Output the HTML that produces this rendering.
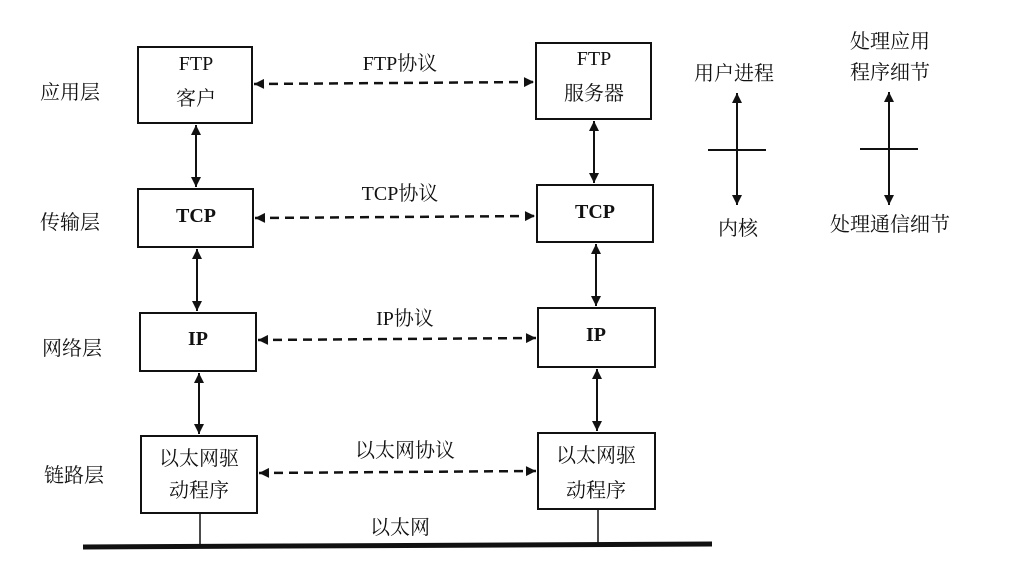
<!DOCTYPE html>
<html><head><meta charset="utf-8"><style>
html,body{margin:0;padding:0;background:#fff;}
svg{display:block;}
text{font-family:"Liberation Serif","Noto Serif CJK SC","Noto Sans CJK SC",serif;font-size:20px;fill:#111;}
.b{font-weight:bold;}
</style></head><body>
<svg width="1023" height="574" viewBox="0 0 1023 574" xmlns="http://www.w3.org/2000/svg">
<defs>
<marker id="h" viewBox="0 0 10 10" refX="10" refY="5" markerWidth="14" markerHeight="10" orient="auto-start-reverse" markerUnits="userSpaceOnUse">
<path d="M0,0 L10,5 L0,10 z" fill="#111"/></marker>
</defs>
<g fill="none" stroke="#111" stroke-width="2">
<rect x="138" y="47" width="114" height="76"/>
<rect x="536" y="43" width="115" height="76"/>
<rect x="138" y="189" width="115" height="58"/>
<rect x="537" y="185" width="116" height="57"/>
<rect x="140" y="313" width="116" height="58"/>
<rect x="538" y="308" width="117" height="59"/>
<rect x="141" y="436" width="116" height="77"/>
<rect x="538" y="433" width="117" height="76"/>
</g>
<g stroke="#111" stroke-width="2.5" stroke-dasharray="9,6" fill="none">
<line x1="254" y1="84" x2="534" y2="82" marker-start="url(#h)" marker-end="url(#h)"/>
<line x1="255" y1="218" x2="535" y2="216" marker-start="url(#h)" marker-end="url(#h)"/>
<line x1="258" y1="340" x2="536" y2="338" marker-start="url(#h)" marker-end="url(#h)"/>
<line x1="259" y1="473" x2="536" y2="471" marker-start="url(#h)" marker-end="url(#h)"/>
</g>
<g stroke="#111" stroke-width="2" fill="none">
<line x1="196" y1="125" x2="196" y2="187" marker-start="url(#h)" marker-end="url(#h)"/>
<line x1="594" y1="121" x2="594" y2="183" marker-start="url(#h)" marker-end="url(#h)"/>
<line x1="197" y1="249" x2="197" y2="311" marker-start="url(#h)" marker-end="url(#h)"/>
<line x1="596" y1="244" x2="596" y2="306" marker-start="url(#h)" marker-end="url(#h)"/>
<line x1="199" y1="373" x2="199" y2="434" marker-start="url(#h)" marker-end="url(#h)"/>
<line x1="597" y1="369" x2="597" y2="431" marker-start="url(#h)" marker-end="url(#h)"/>
<line x1="737" y1="93" x2="737" y2="205" marker-start="url(#h)" marker-end="url(#h)"/>
<line x1="889" y1="92" x2="889" y2="205" marker-start="url(#h)" marker-end="url(#h)"/>
<line x1="708" y1="150" x2="766" y2="150"/>
<line x1="860" y1="149" x2="918" y2="149"/>
<line x1="200" y1="513" x2="200" y2="545" stroke-width="1.5"/>
<line x1="598" y1="509" x2="598" y2="545" stroke-width="1.5"/>
<line x1="83" y1="547" x2="712" y2="544" stroke-width="5"/>
</g>
<g text-anchor="middle">
<text x="196" y="70">FTP</text><text x="196" y="105">客户</text>
<text x="594" y="65">FTP</text><text x="594" y="100">服务器</text>
<text x="196" y="222" class="b">TCP</text>
<text x="595" y="218" class="b">TCP</text>
<text x="198" y="345" class="b">IP</text>
<text x="596" y="341" class="b">IP</text>
<text x="199" y="465">以太网驱</text><text x="199" y="497">动程序</text>
<text x="596" y="462">以太网驱</text><text x="596" y="497">动程序</text>
<text x="400" y="70">FTP协议</text>
<text x="400" y="200">TCP协议</text>
<text x="405" y="325">IP协议</text>
<text x="405" y="457">以太网协议</text>
<text x="400" y="534">以太网</text>
<text x="734" y="80">用户进程</text>
<text x="738" y="235">内核</text>
<text x="890" y="48">处理应用</text>
<text x="890" y="79">程序细节</text>
<text x="890" y="231">处理通信细节</text>
</g>
<g>
<text x="40" y="99">应用层</text>
<text x="40" y="229">传输层</text>
<text x="42" y="355">网络层</text>
<text x="44" y="482">链路层</text>
</g>
</svg>
</body></html>
